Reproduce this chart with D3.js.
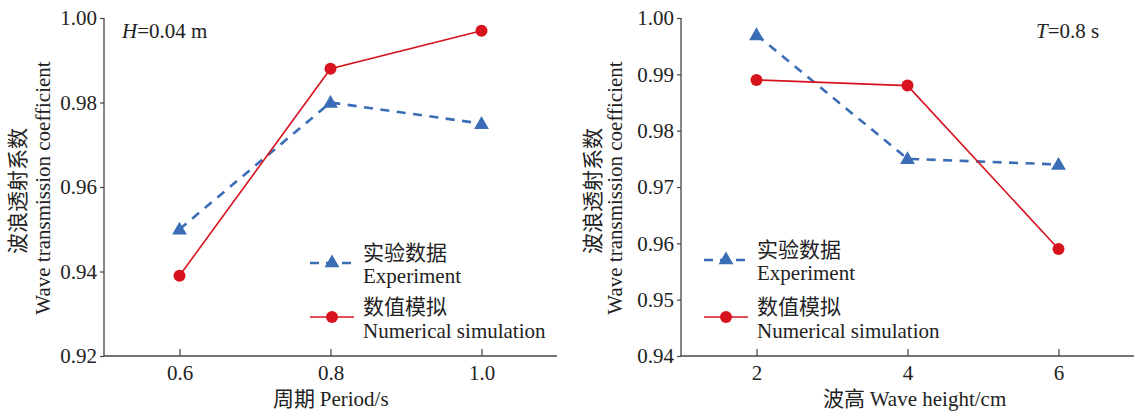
<!DOCTYPE html>
<html><head><meta charset="utf-8">
<script src="https://cdn.jsdelivr.net/npm/d3@7"></script>
<style>
body{margin:0;background:#fff;}
svg{display:block;}
text{font-family:"Liberation Serif","Times New Roman",serif;fill:#222;}
.cjk{font-family:"Noto Sans CJK SC",sans-serif;}
</style></head>
<body>
<svg id="c" width="1137" height="414"></svg>
<script>
// Left panel: period
const periods = [0.6, 0.8, 1.0];
const periodTicks = [0.6, 0.8, 1.0];
const expLeft = [0.950, 0.980, 0.975];
const simLeft = [0.939, 0.988, 0.997];
const yTicksLeft = [0.92, 0.94, 0.96, 0.98, 1.00];

// Right panel: wave height
const heights = [2, 4, 6];
const heightTicks = [2, 4, 6];
const expRight = [0.997, 0.975, 0.974];
const simRight = [0.989, 0.988, 0.959];
const yTicksRight = [0.94, 0.95, 0.96, 0.97, 0.98, 0.99, 1.00];

const BLUE = "#3a6db5", RED = "#d7141e", AXIS = "#444";
const FS = 21;
const svg = d3.select("#c");

function panel(o) {
  const g = svg.append("g");
  const x = d3.scaleLinear().domain(o.xDomain).range([o.x0, o.x1]);
  const y = d3.scaleLinear().domain(o.yDomain).range([o.y1, o.y0]);

  const ya = g.append("g").attr("transform", `translate(${o.x0},0)`)
    .call(d3.axisLeft(y).tickValues(o.yTicks).tickFormat(o.yFmt).tickSize(4).tickPadding(3));
  const xa = g.append("g").attr("transform", `translate(0,${o.y1})`)
    .call(d3.axisBottom(x).tickValues(o.xTicks).tickFormat(o.xFmt).tickSize(-7).tickPadding(9));
  [ya, xa].forEach(a => {
    a.attr("font-size", FS).attr("font-family", null);
    a.select(".domain").attr("stroke", AXIS).attr("stroke-width", 1.3);
    a.selectAll(".tick line").attr("stroke", AXIS).attr("stroke-width", 1.2);
    a.selectAll("text").attr("fill", "#222");
  });
  ya.select(".domain").attr("d", `M0,${o.y0}V${o.y1}`);
  xa.select(".domain").attr("d", `M${o.x0},0H${o.x1}`);

  const line = d3.line().x((d, i) => x(o.xs[i])).y(d => y(d));
  g.append("path").datum(o.exp).attr("d", line).attr("fill", "none")
    .attr("stroke", BLUE).attr("stroke-width", 2.6).attr("stroke-dasharray", "9,7.5");
  g.append("path").datum(o.sim).attr("d", line).attr("fill", "none")
    .attr("stroke", RED).attr("stroke-width", 1.6);
  const tri = d3.symbol().type(d3.symbolTriangle).size(95);
  g.selectAll(".tri").data(o.exp).join("path")
    .attr("transform", (d, i) => `translate(${x(o.xs[i])},${y(d) + 1})`)
    .attr("d", tri).attr("fill", BLUE);
  g.selectAll(".dot").data(o.sim).join("circle")
    .attr("cx", (d, i) => x(o.xs[i])).attr("cy", d => y(d)).attr("r", 6).attr("fill", RED);

  // legend
  const L = o.legend;
  g.append("line").attr("x1", L.x).attr("x2", L.x + 44).attr("y1", L.y1).attr("y2", L.y1)
    .attr("stroke", BLUE).attr("stroke-width", 2.6).attr("stroke-dasharray", "9,7");
  g.append("path").attr("transform", `translate(${L.x + 22},${L.y1})`).attr("d", tri).attr("fill", BLUE);
  g.append("line").attr("x1", L.x).attr("x2", L.x + 44).attr("y1", L.y2).attr("y2", L.y2)
    .attr("stroke", RED).attr("stroke-width", 1.6);
  g.append("circle").attr("cx", L.x + 22).attr("cy", L.y2).attr("r", 6).attr("fill", RED);
  const tx = L.x + 53;
  g.append("text").attr("class", "cjk").attr("x", tx).attr("y", L.y1 - 3).attr("font-size", FS).text("实验数据");
  g.append("text").attr("x", tx).attr("y", L.y1 + 20).attr("font-size", FS).text("Experiment");
  g.append("text").attr("class", "cjk").attr("x", tx).attr("y", L.y2 - 3).attr("font-size", FS).text("数值模拟");
  g.append("text").attr("x", tx).attr("y", L.y2 + 21).attr("font-size", FS).text("Numerical simulation");

  // y label
  const yc = (o.y0 + o.y1) / 2 + 1;
  g.append("text").attr("class", "cjk").attr("transform", `translate(${o.ylx1},${yc + 3}) rotate(-90)`)
    .attr("text-anchor", "middle").attr("font-size", FS).text("波浪透射系数");
  g.append("text").attr("transform", `translate(${o.ylx2},${yc}) rotate(-90)`)
    .attr("text-anchor", "middle").attr("font-size", FS).text("Wave transmission coefficient");

  // x label
  const xl = g.append("text").attr("x", o.xlx).attr("y", 406).attr("font-size", FS);
  xl.append("tspan").attr("class", "cjk").text(o.xlabelCn + " ");
  xl.append("tspan").text(o.xlabelEn);

  // annotation
  const an = g.append("text").attr("x", o.ann.x).attr("y", 38).attr("font-size", FS);
  an.append("tspan").attr("font-style", "italic").text(o.ann.v);
  an.append("tspan").text(o.ann.t);
}

panel({
  x0: 104, x1: 557, y0: 18, y1: 356,
  xDomain: [0.5, 1.1], yDomain: [0.92, 1.00],
  xs: periods, xTicks: periodTicks, yTicks: yTicksLeft,
  xFmt: d3.format(".1f"), yFmt: d3.format(".2f"),
  exp: expLeft, sim: simLeft,
  legend: {x: 310, y1: 263, y2: 317},
  ylx1: 25, ylx2: 50, xlx: 273,
  xlabelCn: "周期", xlabelEn: "Period/s",
  ann: {x: 122, v: "H", t: "=0.04 m"}
});
panel({
  x0: 681, x1: 1134, y0: 18, y1: 356,
  xDomain: [1, 7], yDomain: [0.94, 1.00],
  xs: heights, xTicks: heightTicks, yTicks: yTicksRight,
  xFmt: d3.format("d"), yFmt: d3.format(".2f"),
  exp: expRight, sim: simRight,
  legend: {x: 704, y1: 260, y2: 317},
  ylx1: 600, ylx2: 622, xlx: 823,
  xlabelCn: "波高", xlabelEn: "Wave height/cm",
  ann: {x: 1036, v: "T", t: "=0.8 s"}
});
</script>
</body></html>
